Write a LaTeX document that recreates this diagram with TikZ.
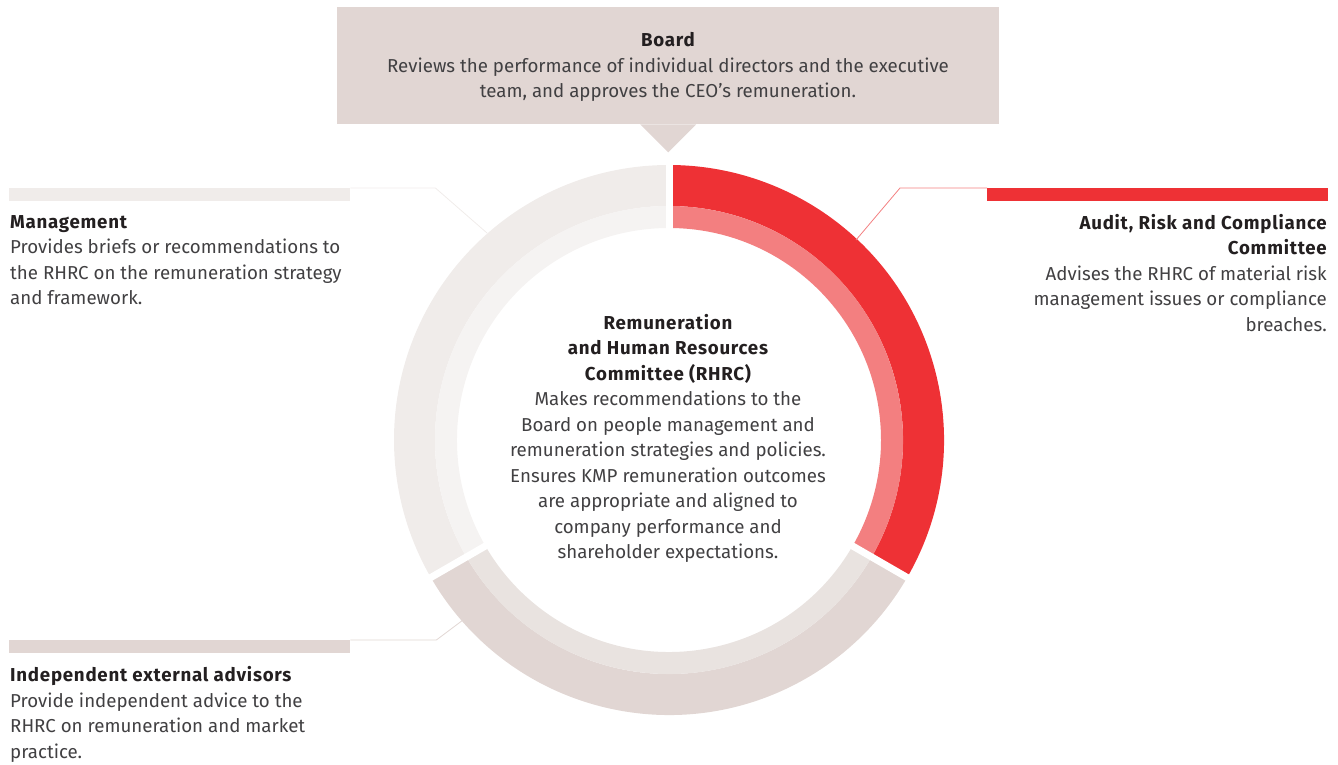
\documentclass[tikz,border=0pt]{standalone}
\usepackage{fontspec}
\setmainfont{Fira Sans}[BoldFeatures={LetterSpace=4}]
\usetikzlibrary{calc}
\definecolor{redc}{HTML}{EE3135}
\definecolor{lredc}{HTML}{F37F80}
\definecolor{boardc}{HTML}{E1D6D3}
\definecolor{botin}{HTML}{E9E3E0}
\definecolor{leftout}{HTML}{F0ECEA}
\definecolor{leftin}{HTML}{F5F3F2}
\definecolor{headc}{HTML}{231F20}
\definecolor{bodyc}{HTML}{414042}
\newcommand\ringseg[5]{% color, start angle, end angle, inner r, outer r
  \fill[#1] ($(c)+(#2:#5)$) arc[start angle=#2, end angle=#3, radius=#5]
    -- ($(c)+(#3:#4)$) arc[start angle=#3, end angle=#2, radius=#4] -- cycle;}
\tikzset{
  txt/.style={inner sep=0pt, text=bodyc, font={\fontsize{18.7}{25.5}\selectfont}},
  bar/.style={inner sep=0pt, minimum width=341pt, minimum height=13pt, anchor=north west},
  link/.style={line width=0.8pt},
  gap/.style={white, line width=7pt}
}
\begin{document}
\begin{tikzpicture}[x=1pt,y=1pt]
\useasboundingbox (0,0) rectangle (1338,764);
\coordinate (c) at (669,324);
% ring
\ringseg{leftout}{90}{210}{234}{275}
\ringseg{leftin}{90}{210}{212}{234}
\ringseg{boardc}{210}{330}{234}{275}
\ringseg{botin}{210}{330}{212}{234}
\ringseg{redc}{-30}{90}{234}{275}
\ringseg{lredc}{-30}{90}{212}{234}
\foreach \a in {90,-30,210} \draw[gap] ($(c)+(\a:205)$) -- ($(c)+(\a:285)$);
% board
\node[fill=boardc, inner sep=0pt, minimum width=662pt, minimum height=117pt, anchor=north west] (board) at (337,757) {};
\fill[boardc] ($(board.south)+(-28,0)$) -- ($(board.south)+(28,0)$) -- ($(board.south)+(0,-28)$) -- cycle;
\node[txt, align=center, anchor=north] (boardtxt) at (668,731.5)
  {\textbf{\color{headc}Board}\\
   Reviews the performance of individual directors and the executive\\
   team, and approves the CEO’s remuneration.};
% management
\node[bar, fill=leftout] (mbar) at (9,576) {};
\coordinate (mring) at (487,531);
\draw[link, leftout] (mbar.north east) -- ++(85,0) -- (mring);
\node[txt, align=left, anchor=north west] (mtxt) at (10,549)
  {\textbf{\color{headc}Management}\\
   Provides briefs or recommendations to\\
   the RHRC on the remuneration strategy\\
   and framework.};
% ARCC
\node[bar, fill=redc] (abar) at (987,576) {};
\coordinate (aring) at (856,524);
\draw[link, lredc] (abar.north west) -- ++(-87,0) -- (aring);
\node[txt, align=right, anchor=north east] (atxt) at (1327,550)
  {\textbf{\color{headc}Audit, Risk and Compliance}\\
   \textbf{\color{headc}Committee}\\
   Advises the RHRC of material risk\\
   management issues or compliance\\
   breaches.};
% independent
\node[bar, fill=boardc] (ibar) at (9,124) {};
\coordinate (iring) at (463,144);
\draw[link, boardc] (ibar.north east) -- ++(86,0) -- (iring);
\node[txt, align=left, anchor=north west] (itxt) at (10,97.5)
  {\textbf{\color{headc}Independent external advisors}\\
   Provide independent advice to the\\
   RHRC on remuneration and market\\
   practice.};
% centre
\node[txt, align=center, anchor=north] (rhrc) at (668,450)
  {\textbf{\color{headc}Remuneration}\\
   \textbf{\color{headc}and Human Resources}\\
   \textbf{\color{headc}Committee (RHRC)}\\
   Makes recommendations to the\\
   Board on people management and\\
   remuneration strategies and policies.\\
   Ensures KMP remuneration outcomes\\
   are appropriate and aligned to\\
   company performance and\\
   shareholder expectations.};
\end{tikzpicture}
\end{document}
